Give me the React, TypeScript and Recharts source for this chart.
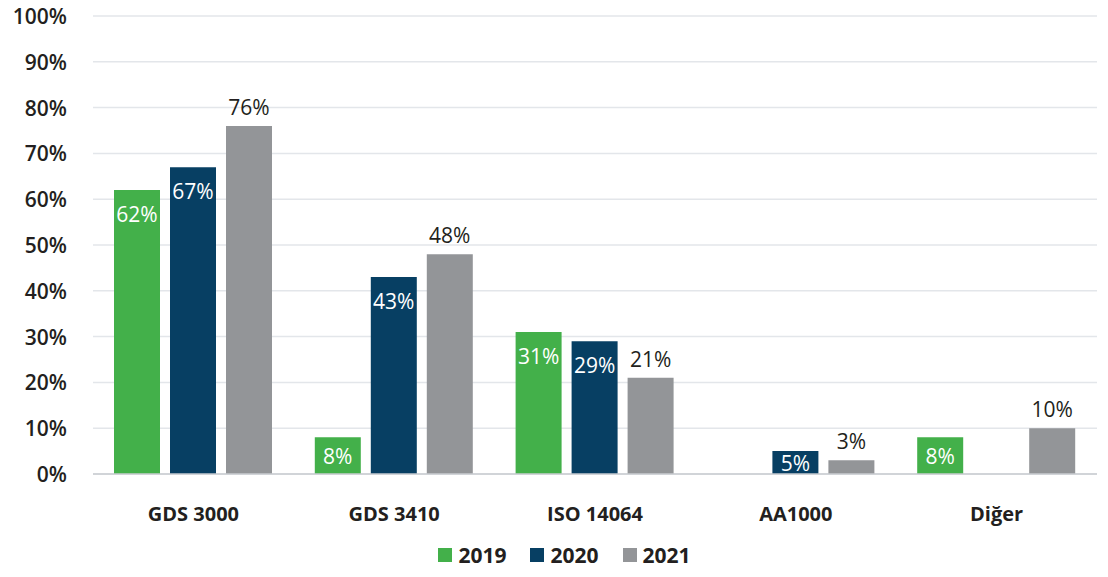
import { BarChart, Bar, XAxis, YAxis, CartesianGrid, Legend, LabelList } from "recharts";

const categories = ["GDS 3000", "GDS 3410", "ISO 14064", "AA1000", "Diğer"];
const y2019 = [62, 8, 31, null, 8];
const y2020 = [67, 43, 29, 5, null];
const y2021 = [76, 48, 21, 3, 10];
const yTicks = [0, 10, 20, 30, 40, 50, 60, 70, 80, 90, 100];

const COLORS = { y2019: "#43B04A", y2020: "#073F63", y2021: "#939598" };
const FONT = "'Open Sans', sans-serif";

const data = categories.map((name, i) => ({
  name,
  y2019: y2019[i],
  y2020: y2020[i],
  y2021: y2021[i],
}));

// label sits inside the bar near the top (centered if bar is short)
function InsideLabel(props: any) {
  const { x, y, width, height, value } = props;
  if (value == null) return null;
  const dy = Math.min(24, height / 2);
  return (
    <text x={x + width / 2} y={y + dy} fill="#fff" fontSize={21} fontWeight={500}
      fontFamily={FONT} textAnchor="middle" dominantBaseline="central">
      {value}%
    </text>
  );
}

function TopLabel(props: any) {
  const { x, y, width, value } = props;
  if (value == null) return null;
  return (
    <text x={x + width / 2} y={y - 19} fill="#231f20" fontSize={21} fontWeight={500}
      fontFamily={FONT} textAnchor="middle" dominantBaseline="central">
      {value}%
    </text>
  );
}

function YTick({ y, payload }: any) {
  return (
    <text x={67} y={y} fill="#231f20" fontSize={21} fontWeight={600} fontFamily={FONT}
      textAnchor="end" dominantBaseline="central">
      {payload.value}%
    </text>
  );
}

function XTick({ x, y, payload }: any) {
  return (
    <text x={x} y={y + 31} fill="#231f20" fontSize={20} fontWeight={700} fontFamily={FONT}
      textAnchor="middle" dominantBaseline="central">
      {payload.value}
    </text>
  );
}

function LegendContent() {
  const items = [
    { label: "2019", color: COLORS.y2019 },
    { label: "2020", color: COLORS.y2020 },
    { label: "2021", color: COLORS.y2021 },
  ];
  return (
    <div style={{ display: "flex", justifyContent: "center", gap: 24, fontFamily: FONT, paddingLeft: 32 }}>
      {items.map((it) => (
        <div key={it.label} style={{ display: "flex", alignItems: "center", gap: 6 }}>
          <span style={{ width: 14, height: 14, background: it.color, display: "inline-block" }} />
          <span style={{ fontSize: 21, fontWeight: 700, color: "#231f20" }}>{it.label}</span>
        </div>
      ))}
    </div>
  );
}

export default function App() {
  return (
    <div style={{ margin: -8, width: 1108, height: 577, background: "#fff" }}>
      <BarChart width={1108} height={577} data={data} barGap={10} barSize={46}
        margin={{ top: 16, right: 11, left: 0, bottom: 0 }}>
        <CartesianGrid vertical={false} stroke="#e3e6ea" strokeWidth={1.5} />
        <XAxis dataKey="name" height={67} tick={<XTick />} tickLine={false}
          axisLine={{ stroke: "#c9ccd0", strokeWidth: 1.5 }} />
        <YAxis width={93} domain={[0, 100]} ticks={yTicks} interval={0}
          tick={<YTick />} axisLine={false} tickLine={false} />
        <Legend verticalAlign="bottom" height={36} content={<LegendContent />} />
        <Bar dataKey="y2019" fill={COLORS.y2019} isAnimationActive={false}>
          <LabelList dataKey="y2019" content={<InsideLabel />} />
        </Bar>
        <Bar dataKey="y2020" fill={COLORS.y2020} isAnimationActive={false}>
          <LabelList dataKey="y2020" content={<InsideLabel />} />
        </Bar>
        <Bar dataKey="y2021" fill={COLORS.y2021} isAnimationActive={false}>
          <LabelList dataKey="y2021" content={<TopLabel />} />
        </Bar>
      </BarChart>
    </div>
  );
}
